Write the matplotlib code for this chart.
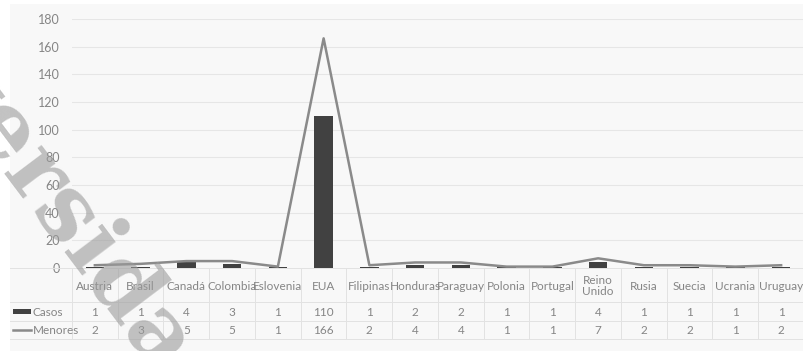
import matplotlib.pyplot as plt
import matplotlib.transforms as mtransforms
from matplotlib.patches import Rectangle
from matplotlib.lines import Line2D

paises = ['Austria', 'Brasil', 'Canadá', 'Colombia', 'Eslovenia', 'EUA', 'Filipinas',
          'Honduras', 'Paraguay', 'Polonia', 'Portugal', 'Reino\nUnido', 'Rusia',
          'Suecia', 'Ucrania', 'Uruguay']
casos = [1, 1, 4, 3, 1, 110, 1, 2, 2, 1, 1, 4, 1, 1, 1, 1]
menores = [2, 3, 5, 5, 1, 166, 2, 4, 4, 1, 1, 7, 2, 2, 1, 2]
y_ticks = [0, 20, 40, 60, 80, 100, 120, 140, 160, 180]

W, H = 804, 351
txt_col = '#858585'
bar_col = '#414141'
line_col = '#8a8a8a'
grid_col = '#e6e6e6'
font = 'Lato'
fw = 'normal'
fs = 8.5

fig = plt.figure(figsize=(W / 100, H / 100), dpi=100)
fig.patch.set_facecolor('white')

# light panel behind chart
fig.patches.append(Rectangle((10 / W, 0), 794 / W, 347 / H,
                             transform=fig.transFigure, facecolor='#f8f8f8',
                             edgecolor='none', zorder=-5))

ax = fig.add_axes([72 / W, 1 - 268 / H, 732 / W, 249 / H])
ax.set_facecolor('none')
x = list(range(len(paises)))
ax.bar(x, casos, width=0.4, color=bar_col, zorder=3)
ax.plot(x, menores, color=line_col, linewidth=1.8, zorder=4)
ax.set_xlim(-0.5, len(paises) - 0.5)
ax.set_ylim(0, 180)
ax.set_yticks(y_ticks)
ax.set_yticklabels([str(v) for v in y_ticks], fontsize=9, color=txt_col,
                   family=font, weight=fw)
ax.tick_params(axis='y', length=0, pad=9)
ax.set_xticks([])
for v in y_ticks[1:]:
    ax.axhline(v, color=grid_col, linewidth=0.8, zorder=1)
for s in ax.spines.values():
    s.set_visible(False)

# data table under the axis
tr = mtransforms.blended_transform_factory(ax.transData, fig.transFigure)
def fy(py):
    return 1 - py / H

for py in [268, 302, 321, 339]:
    fig.add_artist(Line2D([10 / W, 1], [fy(py), fy(py)], transform=fig.transFigure,
                          color='#e2e2e2', linewidth=0.7))
for i in range(len(paises) + 1):
    fig.add_artist(Line2D([i - 0.5, i - 0.5], [fy(268), fy(339)], transform=tr,
                          color='#e2e2e2', linewidth=0.7))

for i, p in enumerate(paises):
    fig.text(i, fy(286), p, transform=tr, ha='center', va='center', fontsize=fs,
             color=txt_col, family=font, weight=fw, linespacing=1.1)
    fig.text(i, fy(312), str(casos[i]), transform=tr, ha='center', va='center',
             fontsize=fs, color=txt_col, family=font, weight=fw)
    fig.text(i, fy(330), str(menores[i]), transform=tr, ha='center', va='center',
             fontsize=fs, color=txt_col, family=font, weight=fw)

# legend keys in the table
fig.patches.append(Rectangle((13 / W, fy(314)), 18 / W, 5 / H, transform=fig.transFigure,
                             facecolor=bar_col, edgecolor='none', zorder=3))
fig.text(33 / W, fy(312), 'Casos', ha='left', va='center', fontsize=fs,
         color=txt_col, family=font, weight=fw)
fig.add_artist(Line2D([13 / W, 31 / W], [fy(330), fy(330)], transform=fig.transFigure,
                      color=line_col, linewidth=1.8))
fig.text(33 / W, fy(330), 'Menores', ha='left', va='center', fontsize=fs,
         color=txt_col, family=font, weight=fw)

# watermark, mostly off the page
wm = dict(rotation=-53, rotation_mode='anchor', fontsize=66, family='DejaVu Serif',
          weight='bold', color='#9a9a9a', alpha=0.6, zorder=10, va='baseline')
fig.text(0 / W, fy(172), 'Unive', ha='right', **wm)
fig.text(0 / W, fy(172), 'rsidad', ha='left', **wm)

fig.savefig('out.png', dpi=100)
